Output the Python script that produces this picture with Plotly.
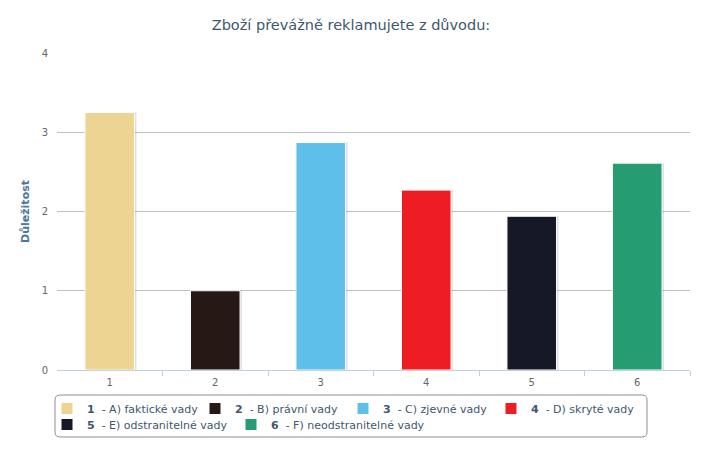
import plotly.graph_objects as go

categories = [1, 2, 3, 4, 5, 6]
values = [3.25, 1.0, 2.87, 2.27, 1.94, 2.61]
numbers = ["1", "2", "3", "4", "5", "6"]
labels = ["A) faktické vady", "B) právní vady", "C) zjevné vady", "D) skryté vady",
          "E) odstranitelné vady", "F) neodstranitelné vady"]
colors = ["#EDD493", "#261915", "#5EC0EA", "#EE1D24", "#161827", "#269C72"]
legend_ids = ["legend", "legend", "legend", "legend", "legend2", "legend3"]

FONT = "DejaVu Sans"
BW = 0.47
L, R, T, B = 57, 12, 53, 84
PW = 702 - L - R
PH = 454 - T - B


def px(x):
    return (x - L) / PW


def py(y):
    return (454 - B - y) / PH


fig = go.Figure()
# shadows
fig.add_trace(go.Bar(x=categories, y=values, width=BW, offset=-BW / 2 + 0.018,
                     marker=dict(color="rgba(0,0,0,0.13)", line=dict(width=0)),
                     showlegend=False, hoverinfo="skip"))
for c, v, n, l, col, lg in zip(categories, values, numbers, labels, colors, legend_ids):
    fig.add_trace(go.Bar(x=[c], y=[v], width=BW, name=f"<b>{n}</b>  - {l}", legend=lg,
                         marker=dict(color=col, line=dict(color="white", width=1))))

# rounded legend frame
x0, x1, y0, y1 = px(55), px(647), py(437), py(395)
rx, ry = 5 / PW, 5 / PH
path = (f"M {x0+rx},{y1} L {x1-rx},{y1} Q {x1},{y1} {x1},{y1-ry} "
        f"L {x1},{y0+ry} Q {x1},{y0} {x1-rx},{y0} L {x0+rx},{y0} "
        f"Q {x0},{y0} {x0},{y0+ry} L {x0},{y1-ry} Q {x0},{y1} {x0+rx},{y1} Z")

legend_common = dict(orientation="h", xanchor="left", yanchor="top",
                     bgcolor="rgba(0,0,0,0)", borderwidth=0,
                     font=dict(family=FONT, size=11, color="#3E576F"),
                     itemwidth=30, traceorder="normal", tracegroupgap=0)

fig.update_layout(
    width=702, height=454,
    margin=dict(l=L, r=R, t=T, b=B),
    plot_bgcolor="white", paper_bgcolor="white",
    barmode="overlay",
    font=dict(family=FONT, color="#666666", size=11),
    title=dict(text="Zboží převážně reklamujete z důvodu:", x=0.5, xanchor="center",
               y=1 - 25 / 454, yanchor="middle",
               font=dict(family=FONT, size=14.5, color="#3E576F")),
    xaxis=dict(range=[0.5, 6.5], tickvals=categories, ticktext=[str(c) for c in categories],
               showgrid=False, showline=True, linecolor="#C0D0E0", linewidth=1,
               ticks="", tickfont=dict(size=10, color="#666666"), ticklabelstandoff=3,
               minor=dict(tickvals=[1.5, 2.5, 3.5, 4.5, 5.5, 6.5], ticks="outside",
                          ticklen=5, tickcolor="#C0D0E0", showgrid=False),
               zeroline=False, fixedrange=True),
    yaxis=dict(range=[0, 4], dtick=1, showgrid=True, gridcolor="#C0C0C0", gridwidth=1,
               zeroline=False, ticks="", tickfont=dict(size=10, color="#666666"),
               ticklabelstandoff=8,
               title=dict(text="<b>Důležitost</b>", font=dict(size=11, color="#4D759E"),
                          standoff=9)),
    legend=dict(legend_common, x=px(47), y=py(394), entrywidth=103, entrywidthmode="pixels"),
    legend2=dict(legend_common, x=px(47), y=py(410)),
    legend3=dict(legend_common, x=px(231), y=py(410)),
    shapes=[dict(type="path", xref="paper", yref="paper", path=path,
                 line=dict(color="#909090", width=1))],
)

fig.write_html("out.html")
